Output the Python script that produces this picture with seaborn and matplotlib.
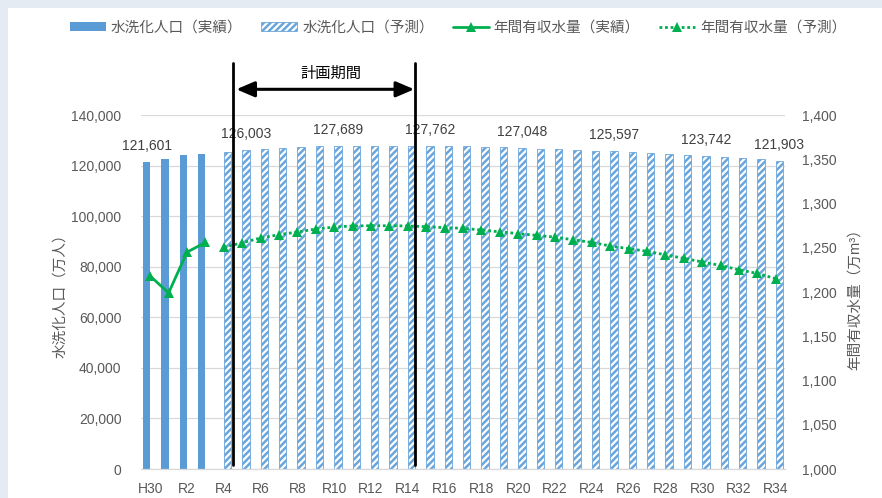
import numpy as np
import pandas as pd
import seaborn as sns
import matplotlib
matplotlib.use("Agg")
import matplotlib.pyplot as plt
from matplotlib.patches import Patch, Rectangle
from matplotlib.lines import Line2D
from matplotlib.ticker import FuncFormatter

# ---------------- data ----------------
years = ["H30"] + [f"R{i}" for i in range(1, 35)]
actual_years = ["H30", "R1", "R2", "R3"]
forecast_years = [f"R{i}" for i in range(4, 35)]

pop_actual = [121601, 122480, 124060, 124580]
pop_forecast = [125480, 126003, 126550, 126950, 127340, 127600, 127689, 127740,
                127770, 127780, 127780, 127762, 127650, 127550, 127420, 127270,
                127048, 126750, 126400, 126130, 125880, 125597, 125210, 124810,
                124420, 124080, 123742, 123340, 122940, 122480, 121903]

water_actual = [1218, 1199, 1245, 1256]
water_forecast = [1250.5, 1255.7, 1261, 1264.8, 1267.8, 1271.2, 1273.4, 1274.6,
                  1274.9, 1274.9, 1274.6, 1273.8, 1272.7, 1272, 1270, 1268,
                  1266, 1264, 1262, 1259, 1256, 1252, 1249, 1246, 1242, 1238,
                  1234, 1230, 1225, 1221, 1215]

labeled_years = ["H30", "R5", "R10", "R15", "R20", "R25", "R30", "R34"]
plan_start, plan_end = "R5", "R14"

lbl_actual = "水洗化人口（実績）"
lbl_forecast = "水洗化人口（予測）"
lbl_w_actual = "年間有収水量（実績）"
lbl_w_forecast = "年間有収水量（予測）"

BLUE = "#5b9bd5"
HATCH_BLUE = "#6aa5dc"
GREEN = "#00b050"
GRAY_TXT = "#595959"
DOTS = (0, (1, 1))

# ---------------- style ----------------
sns.set_theme(style="white")
plt.rcParams["font.family"] = ["Liberation Sans", "Noto Sans CJK JP", "DejaVu Sans"]
plt.rcParams["hatch.linewidth"] = 1.8

fig = plt.figure(figsize=(8.82, 4.98), dpi=100)
fig.patch.set_facecolor("#e5ebf2")
fig.patches.append(Rectangle((8 / 882, 0), 1, 1 - 8 / 498, transform=fig.transFigure,
                             facecolor="white", edgecolor="none", zorder=-10))

ax = fig.add_axes([141 / 882, 1 - 469 / 498, 644 / 882, 354 / 498])
ax.set_facecolor("none")

df = pd.DataFrame({
    "year": actual_years + forecast_years,
    "kind": ["実績"] * len(actual_years) + ["予測"] * len(forecast_years),
    "pop": pop_actual + pop_forecast,
})

sns.barplot(data=df, x="year", y="pop", hue="kind", order=years,
            hue_order=["実績", "予測"], palette={"実績": BLUE, "予測": "white"},
            dodge=True, width=0.8, errorbar=None, legend=False, ax=ax,
            saturation=1)

for p in ax.containers[0]:
    p.set_edgecolor("none")
for p in ax.containers[1]:
    p.set_facecolor("white")
    p.set_edgecolor(HATCH_BLUE)
    p.set_linewidth(0.6)
    p.set_hatch("/////")

ax.set_xlim(-0.5, len(years) - 0.5)
ax.set_ylim(0, 140000)
ax.set_yticks(np.arange(0, 140001, 20000))
ax.yaxis.set_major_formatter(FuncFormatter(lambda v, _: f"{int(v):,}"))
ax.set_xticks(range(0, len(years), 2))
ax.set_xticklabels(years[::2])
ax.tick_params(axis="x", length=0, pad=9, labelsize=10, labelcolor=GRAY_TXT)
ax.tick_params(axis="y", length=0, pad=14, labelsize=10, labelcolor=GRAY_TXT)
ax.set_xlabel("")
ax.set_ylabel("水洗化人口（万人）", fontsize=10.5, color=GRAY_TXT)
ax.yaxis.set_label_coords(-0.115, 0.5)
ax.yaxis.grid(True, color="#d9d9d9", lw=0.9)
ax.set_axisbelow(True)
for s in ["top", "left", "right"]:
    ax.spines[s].set_visible(False)
ax.spines["bottom"].set_color("#d9d9d9")
ax.spines["bottom"].set_linewidth(0.9)

# data labels
pop_map = dict(zip(actual_years + forecast_years, pop_actual + pop_forecast))
for y in labeled_years:
    i = years.index(y)
    off = -0.2 if y in actual_years else 0.2
    ax.annotate(f"{pop_map[y]:,}", (i + off, pop_map[y]), xytext=(0, 11.5),
                textcoords="offset points", ha="center", va="center",
                fontsize=10, color="#404040")

# secondary axis: water
ax2 = ax.twinx()
xa = [years.index(y) for y in actual_years]
xf = [years.index(y) for y in forecast_years]
sns.lineplot(x=xa, y=water_actual, ax=ax2, color=GREEN, lw=2, marker="^",
             markersize=7.5, mec=GREEN, mfc=GREEN, mew=0)
sns.lineplot(x=xf, y=water_forecast, ax=ax2, color=GREEN, lw=2, ls=DOTS,
             marker="^", markersize=7.5, mec=GREEN, mfc=GREEN, mew=0)
ax2.set_ylim(1000, 1400)
ax2.set_yticks(np.arange(1000, 1401, 50))
ax2.yaxis.set_major_formatter(FuncFormatter(lambda v, _: f"{int(v):,}"))
ax2.tick_params(axis="y", length=0, pad=12, labelsize=10, labelcolor=GRAY_TXT)
ax2.set_ylabel("年間有収水量（万m³）", fontsize=10.5, color=GRAY_TXT)
ax2.yaxis.set_label_coords(1.097, 0.49)
ax2.set_xlim(-0.5, len(years) - 0.5)
for s in ax2.spines.values():
    s.set_visible(False)

# planning period markers
x0 = years.index(plan_start) - 0.5
x1 = years.index(plan_end) + 0.4
trans = ax.get_xaxis_transform()
for xv in (x0, x1):
    ax2.add_line(Line2D([xv, xv], [(469 - 465) / 354, (469 - 63) / 354],
                        transform=trans, color="black", lw=2, clip_on=False, zorder=5))
ax.annotate("", xy=(x0 + 0.18, (469 - 89.3) / 354), xytext=(x1 - 0.05, (469 - 89.3) / 354),
            xycoords=trans, textcoords=trans,
            arrowprops=dict(arrowstyle="<|-|>,head_length=1.1,head_width=0.47",
                            lw=2.2, color="black", shrinkA=0, shrinkB=0,
                            mutation_scale=10), annotation_clip=False)
ax.text((x0 + x1) / 2 + 0.35, (469 - 74) / 354, "計画期間", transform=trans,
        ha="center", va="center", fontsize=11, color="black")

# legend
handles = [
    Patch(facecolor=BLUE, edgecolor="none"),
    Patch(facecolor="white", edgecolor=HATCH_BLUE, hatch="/////", lw=0.6),
    Line2D([], [], color=GREEN, lw=2, marker="^", markersize=7.5, mew=0),
    Line2D([], [], color=GREEN, lw=2, ls=DOTS, marker="^", markersize=7.5, mew=0),
]
labels = [lbl_actual, lbl_forecast, lbl_w_actual, lbl_w_forecast]
leg = fig.legend(handles, labels, loc="center", bbox_to_anchor=(458 / 882, 1 - 28 / 498),
                 ncol=4, frameon=False, fontsize=10.5, handlelength=2.47,
                 handleheight=0.55, handletextpad=0.34, columnspacing=1.3)
for t in leg.get_texts():
    t.set_color(GRAY_TXT)

fig.savefig("out.png", dpi=100, facecolor=fig.get_facecolor())
